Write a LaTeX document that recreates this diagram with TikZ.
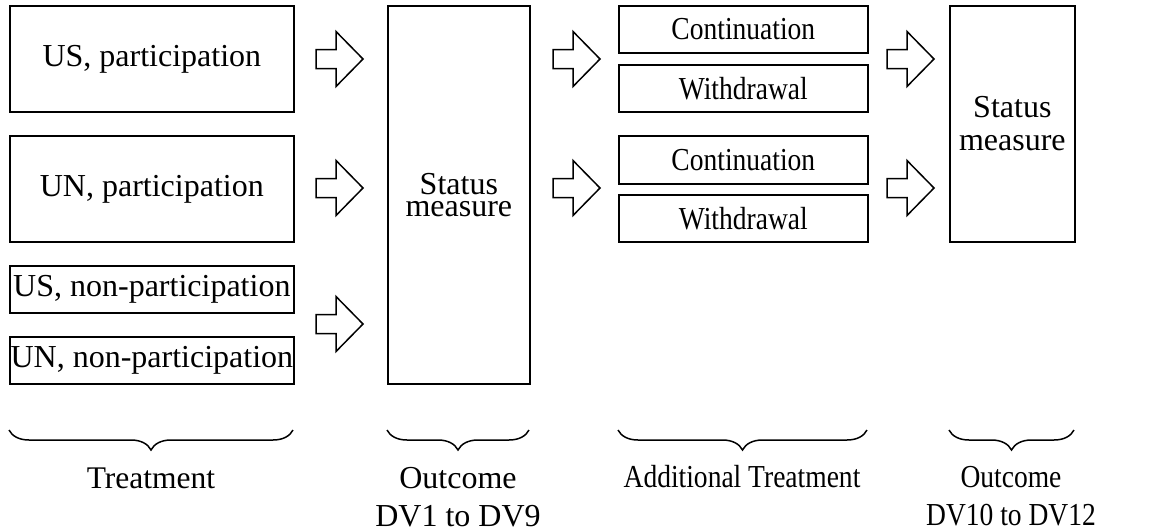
\documentclass[tikz,border=0pt]{standalone}
\usepackage{fontspec}
\setmainfont{Liberation Serif}
\newfontfamily\condserif[FakeStretch=0.86]{Liberation Serif}
\usetikzlibrary{decorations.pathreplacing}
\begin{document}
\begin{tikzpicture}[x=1pt,y=-1pt,
  box/.style={draw, line width=1.7pt, inner sep=0pt, anchor=north west, align=center},
  bigtxt/.style={font=\fontsize{32}{33}\selectfont},
  smalltxt/.style={font=\condserif\fontsize{32}{33}\selectfont},
  lbl/.style={anchor=base, inner sep=0pt},
  brc/.style={decorate, decoration={brace, amplitude=20pt}, line width=1.5pt},
  blockarrow/.pic={\draw[line width=1.5pt, line join=miter] (0,-9.5) -- (20,-9.5) -- (20,-27.5) -- (47,0) -- (20,27.5) -- (20,9.5) -- (0,9.5) -- cycle;}
]
\useasboundingbox (0,0) rectangle (1176,531);
% treatment boxes
\node[box, bigtxt, minimum width=284pt, minimum height=106pt] (usp) at (9,5) {US, participation};
\node[box, bigtxt, minimum width=284pt, minimum height=106pt] (unp) at (9,135) {UN, participation};
\node[box, bigtxt, minimum width=284pt, minimum height=47pt] (usn) at (9,265) {US, non-participation};
\node[box, bigtxt, minimum width=284pt, minimum height=47pt] (unn) at (9,336) {UN, non-participation};
% status 1
\node[box, font=\fontsize{32}{22}\selectfont, minimum width=142pt, minimum height=378pt] (st1) at (387,5) {Status\\measure};
% additional treatment
\node[box, smalltxt, minimum width=249pt, minimum height=47pt] (c1) at (618,5) {Continuation};
\node[box, smalltxt, minimum width=249pt, minimum height=47pt] (w1) at (618,64) {Withdrawal};
\node[box, smalltxt, minimum width=249pt, minimum height=48pt] (c2) at (618,135) {Continuation};
\node[box, smalltxt, minimum width=249pt, minimum height=47pt] (w2) at (618,194) {Withdrawal};
% status 2
\node[box, font=\fontsize{32}{33}\selectfont, minimum width=125pt, minimum height=236pt] (st2) at (949,5) {Status\\measure};
% block arrows
\pic at (316,59) {blockarrow};
\pic at (316,188) {blockarrow};
\pic at (316,324) {blockarrow};
\pic at (553,59) {blockarrow};
\pic at (553,188) {blockarrow};
\pic at (887,59) {blockarrow};
\pic at (887,188) {blockarrow};
% braces
\coordinate (b1r) at (293,430); \coordinate (b1l) at (9,430);
\coordinate (b2r) at (529,430); \coordinate (b2l) at (387,430);
\coordinate (b3r) at (867,430); \coordinate (b3l) at (618,430);
\coordinate (b4r) at (1074,430); \coordinate (b4l) at (949,430);
\draw[brc] (b1r) -- (b1l);
\draw[brc] (b2r) -- (b2l);
\draw[brc] (b3r) -- (b3l);
\draw[brc] (b4r) -- (b4l);
% labels
\node[lbl, font=\fontsize{31.5}{33}\selectfont] (l1) at (151,488) {Treatment};
\node[lbl, bigtxt] (l2a) at (458,488) {Outcome};
\node[lbl, bigtxt] (l2b) at (458,526) {DV1 to DV9};
\node[lbl, smalltxt] (l3) at (742,487) {Additional Treatment};
\node[lbl, smalltxt] (l4a) at (1011,487) {Outcome};
\node[lbl, smalltxt] (l4b) at (1011,525) {DV10 to DV12};
\end{tikzpicture}
\end{document}
